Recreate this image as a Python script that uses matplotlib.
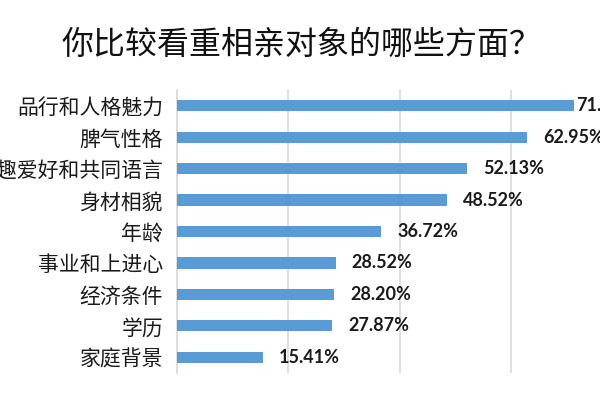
import matplotlib
matplotlib.use("Agg")
import matplotlib.pyplot as plt

categories = ["品行和人格魅力", "脾气性格", "兴趣爱好和共同语言", "身材相貌", "年龄",
              "事业和上进心", "经济条件", "学历", "家庭背景"]
values = [71.40, 62.95, 52.13, 48.52, 36.72, 28.52, 28.20, 27.87, 15.41]
value_labels = ["71.40%", "62.95%", "52.13%", "48.52%", "36.72%",
                "28.52%", "28.20%", "27.87%", "15.41%"]
title = "你比较看重相亲对象的哪些方面？"

plt.rcParams['font.family'] = ['Noto Sans CJK SC', 'DejaVu Sans']

fig = plt.figure(figsize=(6, 4), dpi=100)
ax = fig.add_axes([0.295, 0.0675, 0.742, 0.7075])

y = list(range(len(categories)))
ax.barh(y, values, height=0.36, color="#5B9BD5", zorder=3)
ax.set_ylim(len(categories) - 0.5, -0.5)
ax.set_xlim(0, 80)
ax.set_xticks([0, 20, 40, 60, 80])
ax.xaxis.grid(True, color="#D9D9D9", linewidth=1.2, zorder=0)
ax.tick_params(axis='x', length=0, labelbottom=False)
ax.tick_params(axis='y', length=0, pad=10)
ax.set_yticks(y)
ax.set_yticklabels(categories, fontsize=15, fontweight='medium', color="#1a1a1a")
for s in ["top", "right", "bottom"]:
    ax.spines[s].set_visible(False)
ax.spines["left"].set_color("#D9D9D9")
ax.spines["left"].set_linewidth(1.2)

for i, (yi, v, lab) in enumerate(zip(y, values, value_labels)):
    off = 1.5 if i == 0 else 11.5
    ax.annotate(lab, (v, yi), xytext=(off, 0), textcoords="offset points",
                va="center", ha="left", fontsize=13, fontweight='bold',
                family=['Lato', 'DejaVu Sans'], color="#1a1a1a",
                annotation_clip=False, zorder=4)

fig.text(0.503, 0.887, title, ha="center", va="center", fontsize=23,
         fontweight='medium', color="#111111")

fig.savefig("out.png", dpi=100, facecolor="white")
